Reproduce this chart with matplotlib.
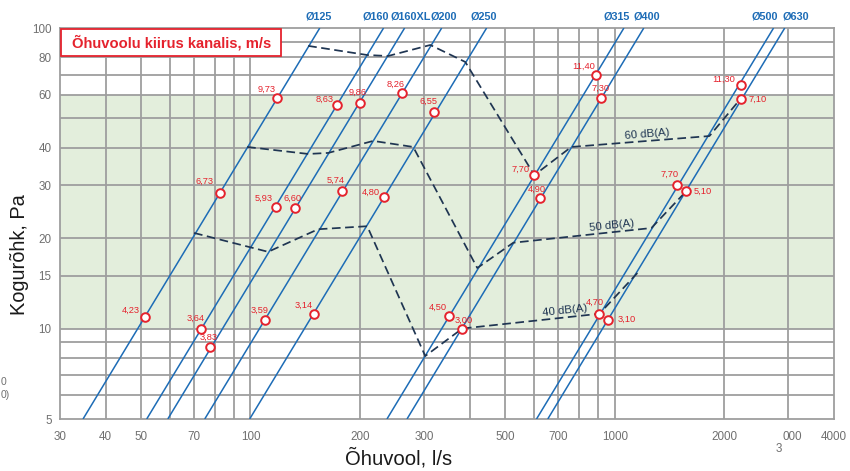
import math
import matplotlib
matplotlib.use("Agg")
import matplotlib.pyplot as plt
from matplotlib.patches import Rectangle
from matplotlib.transforms import ScaledTranslation

plt.rcParams['font.family'] = ['Liberation Sans', 'DejaVu Sans']

# ---------------- data ----------------
duct_names = ["Ø125", "Ø160", "Ø160XL", "Ø200", "Ø250", "Ø315", "Ø400", "Ø500", "Ø630"]
duct_flow_at_5pa = [34.7, 51.9, 59.3, 74.9, 99.5, 237, 269, 610, 655]
duct_flow_at_100pa = [155, 232, 265, 335, 445, 1060, 1202, 2730, 2930]

marker_flow = [51.4, 82.6, 118.5,
               73.2, 117.6, 173,
               77.5, 132.6, 200,
               109.8, 178.6, 261,
               149.6, 233, 319.6,
               351, 601.6, 891,
               381.6, 625, 919,
               908, 1486, 2229,
               961, 1574, 2215]
marker_dp = [10.9, 28.3, 58.5,
             10.0, 25.4, 55.5,
             8.7, 25.2, 56.3,
             10.7, 28.7, 60.8,
             11.2, 27.4, 52.6,
             11.0, 32.4, 69.8,
             10.0, 27.2, 58.5,
             11.2, 30.0, 64.6,
             10.7, 28.7, 58.1]
marker_text = ["4,23", "6,73", "9,73",
               "3,64", "5,93", "8,63",
               "3,83", "6,60", "9,86",
               "3,59", "5,74", "8,26",
               "3,14", "4,80", "6,55",
               "4,50", "7,70", "11,40",
               "3,00", "4,90", "7,30",
               "4,70", "7,70", "11,30",
               "3,10", "5,10", "7,10"]

db_labels = ["60 dB(A)", "50 dB(A)", "40 dB(A)"]
db60_flow = [144.0, 209.2, 238.8, 311.7, 388.8, 601.6, 760, 1820, 2215]
db60_dp = [87.2, 81.3, 80.7, 87.8, 77.1, 32.4, 40.2, 43.7, 58.1]
db50_flow = [97.9, 144.0, 163.5, 217.3, 279.8, 419.5, 526.7, 1261, 1574]
db50_dp = [40.2, 38.1, 38.4, 42.1, 40.2, 15.9, 19.3, 21.6, 28.7]
db40_flow = [70.0, 111.8, 153.4, 209.2, 301.9, 381.6, 908, 1154]
db40_dp = [20.8, 18.0, 21.4, 21.9, 8.1, 10.0, 11.2, 15.3]

x_ticks = [30, 40, 50, 70, 100, 200, 300, 500, 700, 1000, 2000, 3000, 4000]
x_tick_labels = ["30", "40", "50", "70", "100", "200", "300", "500", "700",
                 "1000", "2000", "000", "4000"]
y_ticks = [5, 10, 15, 20, 30, 40, 60, 80, 100]
y_tick_labels = ["5", "10", "15", "20", "30", "40", "60", "80", "100"]
x_grid = [40, 50, 60, 70, 80, 90, 100, 200, 300, 400, 500, 600, 700, 800, 900,
          1000, 2000, 3000]
y_grid = [6, 7, 8, 9, 10, 15, 20, 30, 40, 50, 60, 70, 80, 90]
green_band = (10, 60)

title_text = "Õhuvoolu kiirus kanalis, m/s"
x_label = "Õhuvool, l/s"
y_label = "Kogurõhk, Pa"

# ---------------- styles ----------------
RED = '#e5222d'
BLUE = '#1d6cb6'
DASH = '#1f3552'
GRID = '#9e9e9e'
GREEN = '#e3eedc'
TICKC = '#707070'

W, H = 850, 471
fig = plt.figure(figsize=(W / 100, H / 100), dpi=100)
L, R, T, B = 60, 834, 28, 419
ax = fig.add_axes([L / W, 1 - B / H, (R - L) / W, (B - T) / H])
ax.set_xscale('log')
ax.set_yscale('log')
ax.set_xlim(30, 4000)
ax.set_ylim(5, 100)

ax.axhspan(green_band[0], green_band[1], color=GREEN, zorder=0, lw=0)
for xv in x_grid:
    ax.axvline(xv, color=GRID, lw=1.3, zorder=1)
for yv in y_grid:
    ax.axhline(yv, color=GRID, lw=1.3, zorder=1)
for s in ax.spines.values():
    s.set_color(GRID)
    s.set_linewidth(1.3)

ax.set_xticks(x_ticks)
ax.set_xticklabels(x_tick_labels)
ax.set_yticks(y_ticks)
ax.set_yticklabels(y_tick_labels)
ax.minorticks_off()
ax.tick_params(axis='both', length=0, labelsize=8.4, labelcolor=TICKC)
ax.tick_params(axis='x', pad=9)
ax.tick_params(axis='y', pad=6)
for lab in ax.get_xticklabels():
    if lab.get_text() == "000":
        lab.set_transform(lab.get_transform() + ScaledTranslation(4 / 100, 0, fig.dpi_scale_trans))

# duct lines
for name, q5, q100 in zip(duct_names, duct_flow_at_5pa, duct_flow_at_100pa):
    ax.plot([q5, q100], [5, 100], color=BLUE, lw=1.1, zorder=3, solid_capstyle='butt')

duct_label_dx = [-1, -8, 6, 2, -3, -7, 3, -9, 11]
for name, q100, dx in zip(duct_names, duct_flow_at_100pa, duct_label_dx):
    ax.annotate(name, xy=(q100, 100), xytext=(dx * 0.72, 12 * 0.72),
                textcoords='offset points', ha='center', va='center',
                color=BLUE, fontsize=7.8, fontweight='bold', annotation_clip=False)

# noise curves
curves = [(db60_flow, db60_dp), (db50_flow, db50_dp), (db40_flow, db40_dp)]
for fl, dp in curves:
    ax.plot(fl, dp, color=DASH, lw=1.25, ls=(0, (5, 2.6)), zorder=4)

# dB labels (segment index, fraction in log-space, rotation)
db_label_pos = [(6, 0.55, 4.6), (6, 0.71, 6.2), (5, 0.75, 6.2)]
for (fl, dp), text, (i, t, rot) in zip(curves, db_labels, db_label_pos):
    lx = math.exp(math.log(fl[i]) + t * (math.log(fl[i + 1]) - math.log(fl[i])))
    ly = math.exp(math.log(dp[i]) + t * (math.log(dp[i + 1]) - math.log(dp[i])))
    ax.annotate(text, xy=(lx, ly), xytext=(0, 7 * 0.72), textcoords='offset points',
                ha='center', va='center', rotation=rot, color=DASH, fontsize=8.2,
                zorder=6)

# markers
ax.plot(marker_flow, marker_dp, ls='none', marker='o', ms=6.2, mfc='white',
        mec=RED, mew=1.4, zorder=5)
label_style = [(-5, 7, 'right'), (-7, 11, 'right'), (-2, 9, 'right'),
               (-5, 10, 'center'), (-3, 9, 'right'), (-4, 6, 'right'),
               (-2, 9, 'center'), (-3, 10, 'center'), (-2, 11, 'center'),
               (-6, 9, 'center'), (-7, 11, 'center'), (-7, 9, 'center'),
               (-1, 8, 'right'), (-4, 5, 'right'), (-6, 11, 'center'),
               (-2, 9, 'right'), (-5, 6, 'right'), (-1, 9, 'right'),
               (1, 8, 'center'), (-4, 9, 'center'), (-1, 10, 'center'),
               (-5, 11, 'center'), (-8, 11, 'center'), (-6, 6, 'right'),
               (9, 0, 'left'), (7, 0, 'left'), (8, 0, 'left')]
for q, p, txt, (dx, dy, ha) in zip(marker_flow, marker_dp, marker_text, label_style):
    ax.annotate(txt, xy=(q, p), xytext=(dx * 0.72, dy * 0.72), textcoords='offset points',
                ha=ha, va='center', color=RED, fontsize=6.7, zorder=7)

# title box
ax.add_patch(Rectangle(((61 - L) / (R - L), (B - 56) / (B - T)), 220 / (R - L), 27 / (B - T),
                       transform=ax.transAxes, facecolor='white', edgecolor=RED,
                       lw=1.3, zorder=8))
ax.text((72 - L) / (R - L), (B - 42.5) / (B - T), title_text, transform=ax.transAxes,
        ha='left', va='center', color=RED, fontsize=10.6, fontweight='bold', zorder=9)

# axis labels
fig.text(399 / W, 1 - 458 / H, x_label, ha='center', va='center', fontsize=14.6, color='#1a1a1a')
fig.text(20 / W, 1 - 255 / H, y_label, ha='center', va='center', rotation=90,
         fontsize=14.4, color='#1a1a1a')

# stray fragments present in the reference
fig.text(779 / W, 1 - 449 / H, "3", ha='center', va='center', fontsize=8.4, color=TICKC)
fig.text(1 / W, 1 - 382 / H, "0", ha='left', va='center', fontsize=7.5, color=TICKC)
fig.text(1 / W, 1 - 395 / H, "0)", ha='left', va='center', fontsize=7.5, color=TICKC)

fig.savefig("out.png", dpi=100)
